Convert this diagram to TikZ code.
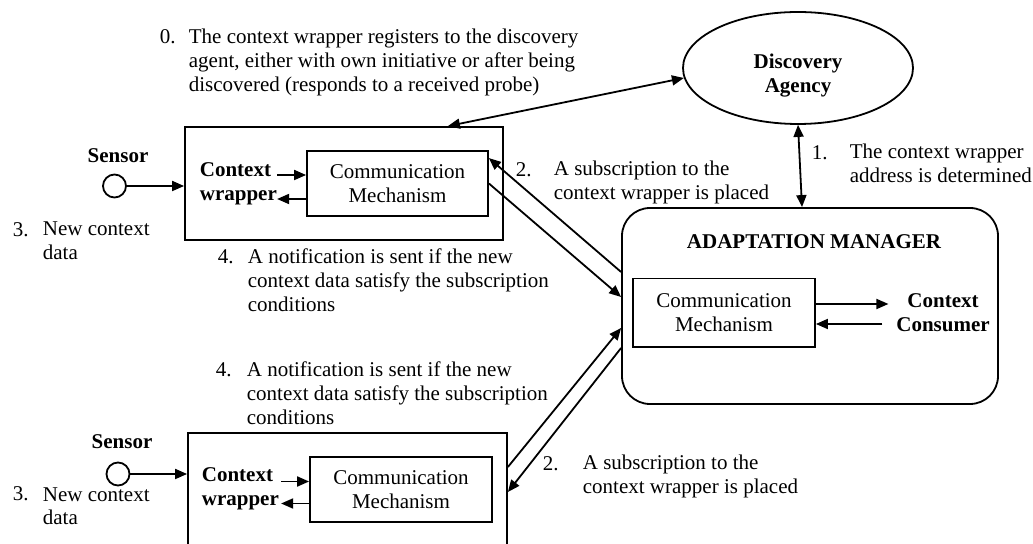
\documentclass[tikz,border=0pt]{standalone}
\usepackage{fontspec}
\setmainfont{Liberation Serif}
\usepackage{tikz}
\usetikzlibrary{arrows.meta,calc,positioning,shapes.geometric}
\tikzset{every node/.append style={font=\fontsize{10.5}{12}\selectfont}}

\begin{document}
\begin{tikzpicture}[x=0.5pt,y=-0.5pt,line width=0.9pt,
    >={Triangle[length=6pt,width=5pt]},
    box/.style={draw,rectangle,inner sep=0pt},
    msgtext/.style={inner sep=0pt,align=left,anchor=base west},
    lbl/.style={inner sep=0pt,align=center,font=\fontsize{10.5}{12}\selectfont\bfseries}]
  \useasboundingbox (0,0) rectangle (1033,544);

  % discovery agency and adaptation manager
  \node[draw,ellipse,minimum width=115pt,minimum height=56pt,inner sep=0pt,
    lbl,text height=27pt] (disc) at (798,68) {Discovery\\Agency};
  \node[box,rounded corners=14pt,minimum width=188pt,minimum height=98pt] (mgr) at (810,306) {};
  \node[lbl,anchor=base] (mgrtitle) at (814,249) {ADAPTATION MANAGER};
  \node[box,minimum width=91pt,minimum height=34.25pt,align=center] (commM) at (724,312.75)
    {Communication\\Mechanism};
  \node[lbl] (cons) at (943,313) {Context\\Consumer};

  % upper context wrapper
  \node[box,minimum width=159pt,minimum height=56.5pt] (wrapA) at (344,183.5) {};
  \node[box,minimum width=90.5pt,minimum height=32.5pt,align=center] (commA) at (397.5,183.5)
    {Communication\\Mechanism};
  \node[lbl,align=left,anchor=base west] (ctxA) at (199,201) {Context\\wrapper};
  \node[draw,circle,minimum size=11.5pt,inner sep=0pt] (sensA) at (114.5,186) {};
  \node[lbl,anchor=base] (sensAlbl) at (118,163) {Sensor};

  % lower context wrapper
  \node[box,minimum width=159.5pt,minimum height=56.5pt] (wrapB) at (347.5,489.5) {};
  \node[box,minimum width=91pt,minimum height=32.5pt,align=center] (commB) at (401,489.5)
    {Communication\\Mechanism};
  \node[lbl,align=left,anchor=base west] (ctxB) at (201,506) {Context\\wrapper};
  \node[draw,circle,minimum size=11.5pt,inner sep=0pt] (sensB) at (118,474) {};
  \node[lbl,anchor=base] (sensBlbl) at (122,449) {Sensor};

  % connectors
  \draw[->] (sensA) -- (sensA -| wrapA.west);
  \draw[->] (sensB) -- (sensB -| wrapB.west);
  \draw[->] ($(commA.west)+(-29,-8.5)$) -- ($(commA.west)+(0,-8.5)$);
  \draw[->] ($(commA.west)+(0,15.5)$) -- ($(commA.west)+(-29,15.5)$);
  \draw[->] ($(commB.west)+(-28,-8)$) -- ($(commB.west)+(0,-8)$);
  \draw[->] ($(commB.west)+(0,14)$) -- ($(commB.west)+(-28,14)$);
  \draw[->] (commM.east |- 0,304) -- ($(cons.west)+(-7,-9)$);
  \draw[->] ($(cons.west)+(-13,11)$) -- (commM.east |- 0,324);
  \draw[<->] ($(wrapA.north east)+(-56,0)$) -- (disc.185);
  \draw[<->] (disc.south) -- ([xshift=-4pt]mgr.north);
  \draw[->] ($(mgr.west)+(0,-34)$) -- ($(commA.north east)+(0,8)$);
  \draw[->] (commA.east) -- ($(mgr.west)+(0,-9)$);
  \draw[->] ($(wrapB.east)+(0,-22.5)$) -- ($(mgr.west)+(0,22)$);
  \draw[->] ($(mgr.west)+(0,42)$) -- ($(wrapB.east)+(0,2.5)$);

  % numbered notes (base = last line)
  \node[msgtext] (n0num) at (159,44) {0.};
  \node[msgtext] (n0) at (188,92) {The context wrapper registers to the discovery\\
    agent, either with own initiative or after being\\discovered (responds to a received probe)};
  \node[msgtext] (n1num) at (811,160) {1.};
  \node[msgtext] (n1) at (849,183) {The context wrapper\\address is determined};
  \node[msgtext] (n2num) at (515,177) {2.};
  \node[msgtext] (n2) at (553,200) {A subscription to the\\context wrapper is placed};
  \node[msgtext] (n3num) at (12,237) {3.};
  \node[msgtext] (n3) at (42,260) {New context\\data};
  \node[msgtext] (n4num) at (217,264) {4.};
  \node[msgtext] (n4) at (247,312) {A notification is sent if the new\\
    context data satisfy the subscription\\conditions};
  \node[msgtext] (m4num) at (215,377) {4.};
  \node[msgtext] (m4) at (246,425) {A notification is sent if the new\\
    context data satisfy the subscription\\conditions};
  \node[msgtext] (m2num) at (542,471) {2.};
  \node[msgtext] (m2) at (582,494) {A subscription to the\\context wrapper is placed};
  \node[msgtext] (m3num) at (12,501) {3.};
  \node[msgtext] (m3) at (42,525) {New context\\data};
\end{tikzpicture}
\end{document}
